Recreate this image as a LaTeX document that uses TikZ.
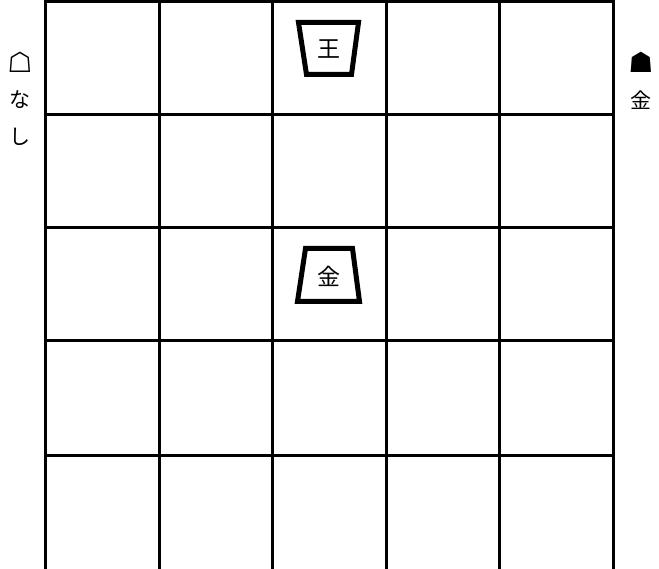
\documentclass[tikz,border=0pt]{standalone}
\usepackage{fontspec}
\newfontfamily\cjk{Noto Sans CJK JP}
\newfontfamily\symfont{DejaVu Sans}
\usepackage{tikz}
\usetikzlibrary{positioning}

\begin{document}
\begin{tikzpicture}[x=1pt, y=-1pt,
    gridline/.style={line width=3pt, black},
    koma/.style={line width=5pt, line join=miter, fill=white},
    moji/.style={font=\cjk\fontsize{23}{23}\selectfont, inner sep=0pt},
    side/.style={font=\cjk\fontsize{21}{21}\selectfont, inner sep=0pt},
    teban/.style={font=\symfont\fontsize{28}{28}\selectfont, inner sep=0pt}
]
\useasboundingbox (0,0) rectangle (659,569);
% board
\draw[gridline] (45,2) -- (613,2);
\foreach \y in {115,228,341,455} \draw[gridline] (45,\y) -- (613,\y);
\foreach \x in {45,159,272,386,499,613} \draw[gridline] (\x,0.5) -- (\x,569);

% gote king
\draw[koma] (298.5,22.5) -- (358.5,22.5) -- (351.5,74.5) -- (306.5,74.5) -- cycle;
\node[moji] (ou) at (329,49) {王};

% sente gold
\draw[koma] (305.5,248.5) -- (352.5,248.5) -- (359.5,301.5) -- (297.5,301.5) -- cycle;
\node[moji] (kin) at (329,276) {金};

% hands
\node[teban] (gote) at (20,62) {☖};
\node[side] (na) at (20,100) {な};
\node[side] (shi) at (20,137) {し};
\node[teban] (sente) at (641,62) {☗};
\node[side] (mochi) at (641,100) {金};
\end{tikzpicture}
\end{document}
